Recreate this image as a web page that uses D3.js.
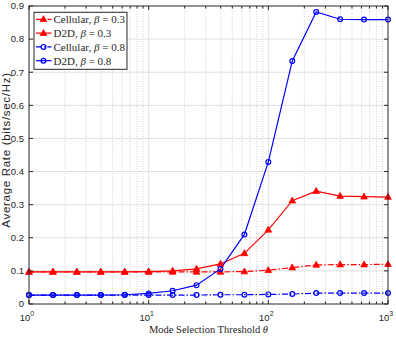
<!DOCTYPE html>
<html>
<head>
<meta charset="utf-8">
<script src="https://cdn.jsdelivr.net/npm/d3@7"></script>
<style>
  body { margin: 0; background: #fff; }
  .tick-label { font-family: "Liberation Sans", Arial, sans-serif; font-size: 9.5px; fill: #262626; }
  .serif { font-family: "Liberation Serif", "Times New Roman", serif; fill: #262626; }
</style>
</head>
<body>
<svg id="chart" width="396" height="338"></svg>
<script>
const MARGIN = { top: 6, bottom: 34, left: 29, right: 8 };
const W = 396, H = 338;

// thresholds: 10^0 .. 10^3 in steps of 0.2 decades
const theta = [1, 1.585, 2.512, 3.981, 6.31, 10, 15.85, 25.12, 39.81, 63.1, 100, 158.5, 251.2, 398.1, 631, 1000];

const cellular03 = [0.097, 0.097, 0.097, 0.097, 0.097, 0.097, 0.097, 0.097, 0.097, 0.098, 0.102, 0.110, 0.118, 0.119, 0.119, 0.120];
const d2d03      = [0.097, 0.097, 0.097, 0.097, 0.097, 0.098, 0.100, 0.106, 0.121, 0.153, 0.224, 0.312, 0.341, 0.326, 0.324, 0.323];
const cellular08 = [0.027, 0.027, 0.027, 0.027, 0.027, 0.027, 0.027, 0.027, 0.028, 0.028, 0.029, 0.030, 0.033, 0.033, 0.033, 0.033];
const d2d08      = [0.027, 0.027, 0.027, 0.027, 0.028, 0.032, 0.040, 0.057, 0.106, 0.210, 0.429, 0.734, 0.882, 0.860, 0.859, 0.859];

const yTicks = [0, 0.1, 0.2, 0.3, 0.4, 0.5, 0.6, 0.7, 0.8, 0.9];
const xMajor = [1, 10, 100, 1000];

const series = [
  { name: 'Cellular', beta: '0.3', values: cellular03, color: '#ff0000', dash: '6,2,1.5,2', marker: 'tri' },
  { name: 'D2D', beta: '0.3', values: d2d03, color: '#ff0000', dash: null, marker: 'tri' },
  { name: 'Cellular', beta: '0.8', values: cellular08, color: '#0000ff', dash: '6,2,1.5,2', marker: 'circ' },
  { name: 'D2D', beta: '0.8', values: d2d08, color: '#0000ff', dash: null, marker: 'circ' }
];

const width = W - MARGIN.left - MARGIN.right;
const height = H - MARGIN.top - MARGIN.bottom;

const $svg = d3.select('#chart');
const $g = $svg.append('g').attr('transform', `translate(${MARGIN.left},${MARGIN.top})`);

const x = d3.scaleLog().domain([1, 1000]).range([0, width]);
const y = d3.scaleLinear().domain([0, 0.9]).range([height, 0]);

// minor log ticks
const minor = [];
[1, 10, 100].forEach(dec => { for (let k = 2; k <= 9; k++) minor.push(dec * k); });

// grid
$g.selectAll('.vminor').data(minor).enter().append('line')
  .attr('x1', d => x(d)).attr('x2', d => x(d)).attr('y1', 0).attr('y2', height)
  .style('stroke', '#c4c4c4').style('stroke-width', 0.8).style('stroke-dasharray', '1,1.5');
$g.selectAll('.vmajor').data([10, 100]).enter().append('line')
  .attr('x1', d => x(d)).attr('x2', d => x(d)).attr('y1', 0).attr('y2', height)
  .style('stroke', '#e0e0e0').style('stroke-width', 1);
$g.selectAll('.hgrid').data(yTicks.slice(1, -1)).enter().append('line')
  .attr('x1', 0).attr('x2', width).attr('y1', d => y(d)).attr('y2', d => y(d))
  .style('stroke', '#e0e0e0').style('stroke-width', 1);

// series
const line = d3.line().x((d, i) => x(theta[i])).y(d => y(d));
series.forEach(s => {
  $g.append('path')
    .datum(s.values)
    .attr('d', line)
    .style('fill', 'none')
    .style('stroke', s.color)
    .style('stroke-width', 1.2)
    .style('stroke-dasharray', s.dash);
});

function drawMarker(sel, type, cx, cy, color) {
  if (type === 'tri') {
    sel.append('path')
      .attr('d', `M${cx},${cy - 3.6}L${cx + 3.3},${cy + 2.3}L${cx - 3.3},${cy + 2.3}Z`)
      .style('fill', color).style('stroke', color).style('stroke-width', 0.8);
  } else {
    sel.append('circle')
      .attr('cx', cx).attr('cy', cy).attr('r', 2.4)
      .style('fill', 'none').style('stroke', color).style('stroke-width', 1.2);
  }
}

series.forEach(s => {
  s.values.forEach((v, i) => drawMarker($g, s.marker, x(theta[i]), y(v), s.color));
});

// frame
$g.append('rect').attr('width', width).attr('height', height)
  .style('fill', 'none').style('stroke', '#262626').style('stroke-width', 1);

// ticks (inward, both sides)
const tickLen = 4;
yTicks.forEach(t => {
  $g.append('line').attr('x1', 0).attr('x2', tickLen).attr('y1', y(t)).attr('y2', y(t)).style('stroke', '#262626');
  $g.append('line').attr('x1', width).attr('x2', width - tickLen).attr('y1', y(t)).attr('y2', y(t)).style('stroke', '#262626');
  $g.append('text').attr('class', 'tick-label')
    .attr('x', -5).attr('y', y(t)).attr('dy', '0.35em').attr('text-anchor', 'end')
    .text(t === 0 ? '0' : d3.format('.1f')(t));
});
xMajor.concat(minor).forEach(t => {
  const len = xMajor.includes(t) ? tickLen : 2.5;
  $g.append('line').attr('x1', x(t)).attr('x2', x(t)).attr('y1', height).attr('y2', height - len).style('stroke', '#262626');
  $g.append('line').attr('x1', x(t)).attr('x2', x(t)).attr('y1', 0).attr('y2', len).style('stroke', '#262626');
});
xMajor.forEach(t => {
  const txt = $g.append('text').attr('class', 'tick-label')
    .attr('x', x(t) - 2).attr('y', height + 17).attr('text-anchor', 'middle');
  txt.append('tspan').text('10');
  txt.append('tspan').attr('dy', -5).style('font-size', '7px').text(Math.log10(t));
});

// axis labels
$svg.append('text').attr('class', 'tick-label')
  .attr('transform', `translate(9.5,150) rotate(-90)`)
  .attr('text-anchor', 'middle')
  .style('font-size', '11.5px')
  .style('letter-spacing', '0.7px')
  .text('Average Rate (bits/sec/Hz)');

const xl = $svg.append('text').attr('class', 'serif')
  .attr('x', MARGIN.left + width / 2).attr('y', 333)
  .attr('text-anchor', 'middle').style('font-size', '10.5px');
xl.append('tspan').text('Mode Selection Threshold ');
xl.append('tspan').style('font-style', 'italic').text('θ');

// legend
const $leg = $g.append('g').attr('transform', 'translate(5,6.3)');
$leg.append('rect').attr('width', 93).attr('height', 57)
  .style('fill', '#fff').style('stroke', '#262626').style('stroke-width', 1);
series.forEach((s, i) => {
  const ly = 7 + i * 13.8;
  $leg.append('line').attr('x1', 2).attr('x2', 17.5).attr('y1', ly).attr('y2', ly)
    .style('stroke', s.color).style('stroke-width', 1.2).style('stroke-dasharray', s.dash);
  drawMarker($leg, s.marker, 9.5, ly, s.color);
  const t = $leg.append('text').attr('class', 'serif')
    .attr('x', 19.5).attr('y', ly).attr('dy', '0.35em')
    .style('font-size', '11px');
  t.append('tspan').text(`${s.name}, `);
  t.append('tspan').style('font-style', 'italic').text('β');
  t.append('tspan').text(` = ${s.beta}`);
});
</script>
</body>
</html>
